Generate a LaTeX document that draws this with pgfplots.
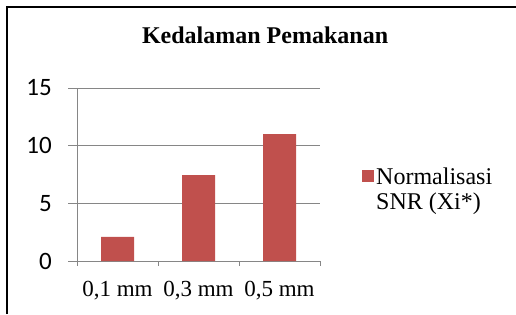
\documentclass[border=0pt]{standalone}
\usepackage{fontspec}
\setmainfont{Liberation Serif}
\newfontfamily\calibri{Carlito}
\usepackage{pgfplots}
\pgfplotsset{compat=1.18}
\definecolor{barred}{HTML}{C0504D}
\definecolor{gridgray}{HTML}{868686}
\begin{document}
\begin{tikzpicture}[x=1bp,y=1bp]
\path[use as bounding box] (0,0) rectangle (516,314);
\draw[line width=2bp] (7,0) -- (7,307) -- (516,307);
\begin{axis}[
  at={(77bp,53bp)}, anchor=south west,
  scale only axis, width=243bp, height=173bp,
  xmin=-0.5, xmax=2.5, ymin=0, ymax=15,
  clip=false,
  axis lines*=left,
  axis line style={gridgray, line width=1bp},
  ymajorgrids, grid style={gridgray, line width=1bp},
  ytick={0,5,10,15}, yticklabels={0,5,10,15},
  xtick={0,1,2}, xticklabels={{0,1 mm},{0,3 mm},{0,5 mm}},
  tick align=outside, major tick length=9bp,
  tick style={gridgray, line width=1bp},
  xtick style={draw=none},
  yticklabel style={font=\calibri\fontsize{25bp}{28bp}\selectfont, inner sep=0pt, xshift=-16bp},
  xticklabel style={font=\fontsize{23bp}{27bp}\selectfont, inner sep=0pt, anchor=base, yshift=-26bp},
  title={Kedalaman Pemakanan},
  title style={font=\bfseries\fontsize{24bp}{28bp}\selectfont, at={(axis description cs:0.774,1.22)}, anchor=base, inner sep=0pt},
  legend style={at={(axis description cs:1.173,0.416)}, anchor=west, draw=none, fill=none, inner sep=0pt,
    font=\fontsize{24bp}{25bp}\selectfont, cells={align=left}},
  legend image code/.code={\fill[barred] (0bp,7bp) rectangle (12bp,19bp);},
]
\addplot[ybar, bar width=33bp, fill=barred, draw=none] coordinates {(0,2.1) (1,7.45) (2,11.0)};
\addlegendentry{Normalisasi\\SNR (Xi*)}
\draw[gridgray, line width=1bp] (axis cs:-0.5,0) -- ++(0bp,-5bp);
\draw[gridgray, line width=1bp] (axis cs:0.5,0) -- ++(0bp,-5bp);
\draw[gridgray, line width=1bp] (axis cs:1.5,0) -- ++(0bp,-5bp);
\draw[gridgray, line width=1bp] (axis cs:2.5,0) -- ++(0bp,-5bp);
\end{axis}
\end{tikzpicture}
\end{document}
